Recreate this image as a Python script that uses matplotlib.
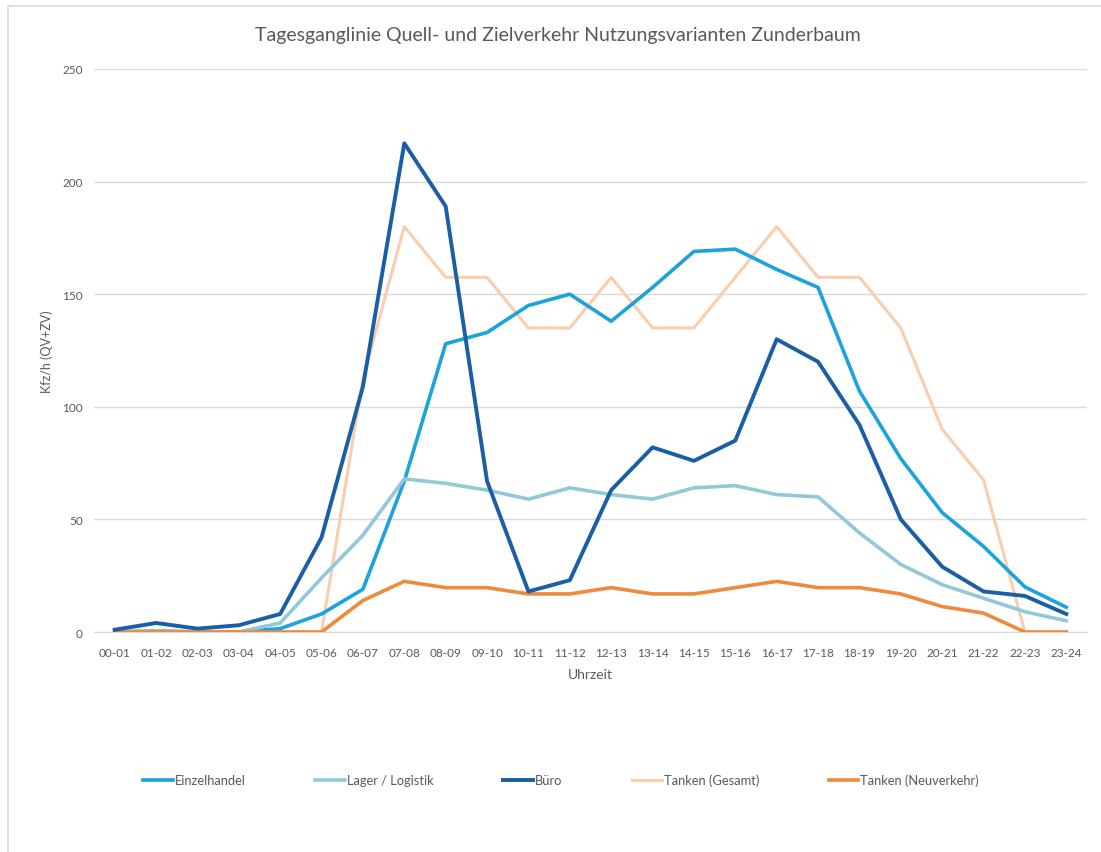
import matplotlib.pyplot as plt
from matplotlib.patches import Rectangle

plt.rcParams["font.family"] = ["Lato", "DejaVu Sans"]

# Stunden-Intervalle
hours = ["00-01", "01-02", "02-03", "03-04", "04-05", "05-06", "06-07", "07-08",
         "08-09", "09-10", "10-11", "11-12", "12-13", "13-14", "14-15", "15-16",
         "16-17", "17-18", "18-19", "19-20", "20-21", "21-22", "22-23", "23-24"]

# Kfz/h (QV+ZV)
einzelhandel = [0, 0.5, 0, 0, 1.5, 8, 19, 67, 128, 133, 145, 150,
                138, 153, 169, 170, 161, 153, 107, 77, 53, 38, 20, 11]
lager = [0, 0.5, 0, 0, 4, 24, 43, 68, 66, 63, 59, 64,
         61, 59, 64, 65, 61, 60, 44, 30, 21, 15, 9, 5]
buero = [1, 4, 1.5, 3, 8, 42, 109, 217, 189, 67, 18, 23,
         63, 82, 76, 85, 130, 120, 92, 50, 29, 18, 16, 8]
tanken_gesamt = [0, 0, 0, 0, 0, 0, 112.5, 180, 157.5, 157.5, 135, 135,
                 157.5, 135, 135, 157.5, 180, 157.5, 157.5, 135, 90, 67.5, 0, 0]
tanken_neu = [0, 0, 0, 0, 0, 0, 14, 22.5, 19.7, 19.7, 16.9, 16.9,
              19.7, 16.9, 16.9, 19.7, 22.5, 19.7, 19.7, 16.9, 11.3, 8.4, 0, 0]

GREY = "#595959"
W, H = 1101, 853

fig = plt.figure(figsize=(W / 100, H / 100), dpi=100)
fig.patches.append(Rectangle((8 / W, -0.1), 1.2, 1.1 - 7 / H, transform=fig.transFigure,
                             fill=False, edgecolor="#d9d9d9", linewidth=1.2))

ax = fig.add_axes([94 / W, 1 - 633 / H, (1087 - 94) / W, (633 - 70) / H])
x = list(range(len(hours)))

ax.plot(x, einzelhandel, color="#1aa3dc", linewidth=2.6, label="Einzelhandel", zorder=3)
ax.plot(x, lager, color="#92c9d9", linewidth=2.6, label="Lager / Logistik", zorder=3)
ax.plot(x, buero, color="#1a5ea6", linewidth=2.8, label="Büro", zorder=4)
ax.plot(x, tanken_gesamt, color="#f8cdb0", linewidth=2.2, label="Tanken (Gesamt)", zorder=2)
ax.plot(x, tanken_neu, color="#ee8a3c", linewidth=2.6, label="Tanken (Neuverkehr)", zorder=3)

ax.set_xlim(-0.5, len(hours) - 0.5)
ax.set_ylim(0, 250)
ax.set_yticks([0, 50, 100, 150, 200, 250])
ax.set_xticks(x)
ax.set_xticklabels(hours)
ax.grid(axis="y", color="#d9d9d9", linewidth=1)
ax.set_axisbelow(True)
for side in ["top", "right", "left"]:
    ax.spines[side].set_visible(False)
ax.spines["bottom"].set_color("#d9d9d9")
ax.tick_params(axis="both", length=0, colors=GREY, labelsize=8.5)
ax.tick_params(axis="y", pad=8)
ax.tick_params(axis="x", pad=11)

ax.set_xlabel("Uhrzeit", color=GREY, fontsize=10, labelpad=7)
ax.set_ylabel("Kfz/h (QV+ZV)", color=GREY, fontsize=9, labelpad=7)
fig.text(558 / W, 1 - 35 / H, "Tagesganglinie Quell- und Zielverkehr Nutzungsvarianten Zunderbaum",
         ha="center", va="center", color=GREY, fontsize=14)

fig.legend(loc="center", bbox_to_anchor=(561 / W, 1 - 781 / H), ncol=5, frameon=False,
           handlelength=2.3, handletextpad=0.15, columnspacing=5.4,
           fontsize=9.3, labelcolor=GREY)

fig.savefig("out.png", dpi=100)
